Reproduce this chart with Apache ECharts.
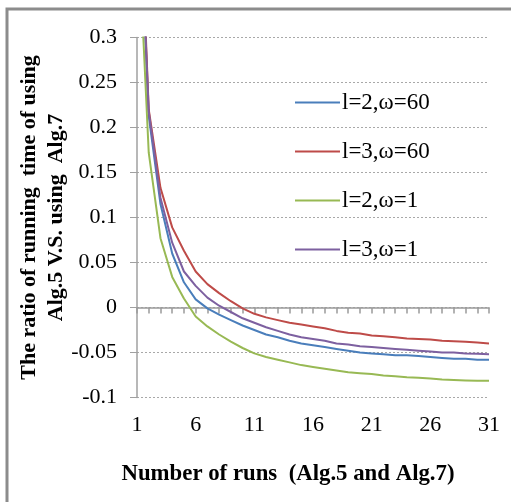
<!DOCTYPE html>
<html>
<head>
<meta charset="utf-8">
<script src="https://cdn.jsdelivr.net/npm/echarts@6/dist/echarts.min.js"></script>
<style>html,body{margin:0;padding:0;background:#fff;}#c{width:511px;height:502px;}</style>
</head>
<body>
<div id="c"></div>
<script>
var runs = ['1','2','3','4','5','6','7','8','9','10','11','12','13','14','15','16','17','18','19','20','21','22','23','24','25','26','27','28','29','30','31'];
var seriesNames = ['l=2,ω=60', 'l=3,ω=60', 'l=2,ω=1', 'l=3,ω=1'];
var l2w60 = [0.52, 0.213, 0.115, 0.060, 0.028, 0.009, -0.001, -0.008, -0.014, -0.020, -0.025, -0.030, -0.033, -0.037, -0.040, -0.042, -0.044, -0.046, -0.048, -0.050, -0.051, -0.052, -0.053, -0.053, -0.054, -0.055, -0.056, -0.057, -0.057, -0.058, -0.058];
var l3w60 = [0.55, 0.220, 0.133, 0.089, 0.063, 0.040, 0.026, 0.016, 0.007, -0.001, -0.007, -0.011, -0.014, -0.017, -0.019, -0.021, -0.023, -0.026, -0.028, -0.029, -0.031, -0.032, -0.033, -0.0345, -0.035, -0.0355, -0.037, -0.0375, -0.038, -0.039, -0.040];
var l2w1 = [0.45, 0.172, 0.077, 0.034, 0.010, -0.010, -0.021, -0.030, -0.038, -0.045, -0.051, -0.055, -0.058, -0.061, -0.064, -0.066, -0.068, -0.070, -0.072, -0.073, -0.074, -0.0755, -0.0765, -0.0775, -0.078, -0.079, -0.080, -0.0805, -0.081, -0.0815, -0.0815];
var l3w1 = [0.53, 0.218, 0.122, 0.072, 0.040, 0.024, 0.011, 0.002, -0.005, -0.012, -0.017, -0.022, -0.026, -0.030, -0.033, -0.035, -0.037, -0.040, -0.041, -0.043, -0.044, -0.045, -0.046, -0.047, -0.048, -0.049, -0.050, -0.050, -0.051, -0.0515, -0.052];
var yTickLabels = ['-0.1', '-0.05', '0', '0.05', '0.1', '0.15', '0.2', '0.25', '0.3'];
var colors = ['#4a7ebb', '#be4b48', '#98b954', '#7d60a0'];

var serif = '"Liberation Serif", "Times New Roman", serif';
var chart = echarts.init(document.getElementById('c'), null, {renderer: 'canvas'});
var allData = [l2w60, l3w60, l2w1, l3w1];
var option = {
  backgroundColor: '#fff',
  animation: false,
  grid: {left: 137, right: 22, top: 37.5, bottom: 104.5, containLabel: false},
  legend: {
    orient: 'vertical', left: 290, top: 86, itemWidth: 45, itemHeight: 2, itemGap: 26,
    icon: 'rect',
    textStyle: {fontFamily: serif, fontSize: 23, color: '#000', padding: [0, 0, 0, -3]},
    data: seriesNames
  },
  xAxis: [{
    type: 'category', data: runs, boundaryGap: false, position: 'bottom',
    axisLine: {show: false, onZero: false}, axisTick: {show: false},
    axisLabel: {interval: 4, margin: 17, fontFamily: serif, fontSize: 22, color: '#000'},
    splitLine: {show: false},
    name: 'Number of runs  (Alg.5 and Alg.7)', nameLocation: 'middle', nameGap: 65, nameMoveOverlap: false,
    nameTextStyle: {fontFamily: serif, fontSize: 22.8, fontWeight: 'bold', color: '#000', padding: [0, 50, 0, 0]}
  }, {
    type: 'category', data: runs, boundaryGap: false, position: 'bottom',
    axisLine: {show: true, onZero: true, lineStyle: {color: '#9a9a9a', width: 1.5}},
    axisTick: {show: true, interval: 0, length: 6, inside: false, lineStyle: {color: '#9a9a9a', width: 1.5}},
    axisLabel: {show: false}, splitLine: {show: false}
  }],
  yAxis: {
    type: 'value', min: -0.1, max: 0.3, interval: 0.05,
    axisLine: {show: true, lineStyle: {color: '#a0a0a0', width: 1.5}},
    axisTick: {show: true, length: 7, lineStyle: {color: '#a0a0a0', width: 1}},
    axisLabel: {margin: 20, fontFamily: serif, fontSize: 22, color: '#000',
      formatter: function (v) { var i = Math.round((v + 0.1) / 0.05); return yTickLabels[i]; }},
    splitLine: {show: true, lineStyle: {color: '#a8a8a8', type: [2, 2], width: 1}},
    name: 'The ratio of running  time of using\nAlg.5 V.S. using  Alg.7',
    nameLocation: 'middle', nameRotate: 90, nameGap: 67, nameMoveOverlap: false,
    nameTextStyle: {fontFamily: serif, fontSize: 22, fontWeight: 'bold', color: '#000', lineHeight: 27}
  },
  graphic: [{
    type: 'rect', silent: true, z: 100,
    shape: {x: 7, y: 9, width: 700, height: 700},
    style: {fill: 'none', stroke: '#8c8c8c', lineWidth: 3}
  }],
  series: seriesNames.map(function (n, i) {
    return {
      name: n, type: 'line', data: allData[i], xAxisIndex: 0, yAxisIndex: 0,
      symbol: 'none', smooth: false, clip: true,
      lineStyle: {color: colors[i], width: 2}, itemStyle: {color: colors[i]}
    };
  })
};
chart.setOption(option);
</script>
</body>
</html>
